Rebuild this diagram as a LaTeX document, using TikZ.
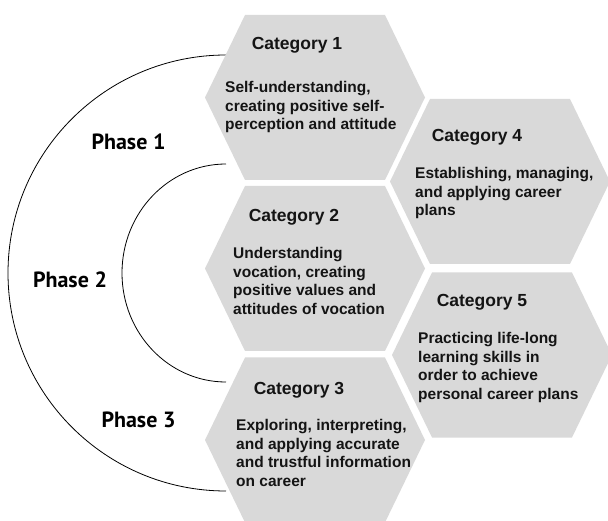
\documentclass[tikz,border=0pt]{standalone}
\usepackage{fontspec}
\setmainfont{Liberation Sans}
\newfontfamily\phasefamily{PT Sans}
\usepackage{xcolor}
\usepackage{tikz}
\usetikzlibrary{positioning}

\definecolor{cellgray}{RGB}{217,217,217}
\definecolor{inkgray}{RGB}{20,20,20}

\newcommand{\hexcell}[3]{%
  \coordinate (#1) at (#2,#3);
  \fill[cell, shift={(#2,#3)}] (-110,0) -- (-70,-82.5) -- (70,-82.5) -- (110,0)
    -- (70,82.5) -- (-70,82.5) -- cycle;
}

\begin{document}
\begin{tikzpicture}[
  x=1pt, y=-1pt,
  cell/.style={fill=cellgray},
  cattitle/.style={font=\fontsize{17.5}{20}\selectfont\bfseries, text=inkgray, anchor=base, inner sep=0pt},
  catbody/.style={font=\fontsize{15.5}{18.6}\selectfont\bfseries, text=inkgray, align=left, anchor=north west, inner sep=0pt},
  phaselabel/.style={font=\phasefamily\fontsize{22}{26}\selectfont\bfseries, anchor=base, inner sep=0pt},
  phasearc/.style={draw, line width=0.8pt}
]
  \clip (0,0) rectangle (608,521);

  \coordinate (outer top) at (226,55);
  \coordinate (inner top) at (226,164);
  \draw[phasearc] (outer top) arc[start angle=-90, end angle=-270, x radius=218, y radius=218] coordinate (outer bottom);
  \draw[phasearc] (inner top) arc[start angle=-90, end angle=-270, x radius=104, y radius=109] coordinate (inner bottom);

  \hexcell{hex1}{315}{97.5}
  \hexcell{hex2}{315}{268.5}
  \hexcell{hex3}{315}{440}
  \hexcell{hex4}{500}{181.5}
  \hexcell{hex5}{502}{355}

  \node[phaselabel] (phase1) at (128.5,150) {Phase 1};
  \node[phaselabel] (phase2) at (70,288) {Phase 2};
  \node[phaselabel] (phase3) at (138.5,427) {Phase 3};

  \node[cattitle] (cat1) at (297,49.5) {Category 1};
  \node[catbody] (text1) at (225,81.3) {Self-understanding,\\creating positive self-\\perception and attitude};

  \node[cattitle] (cat2) at (294,221.3) {Category 2};
  \node[catbody] (text2) at (233,247.3) {Understanding\\vocation, creating\\positive values and\\attitudes of vocation};

  \node[cattitle] (cat3) at (299,394.3) {Category 3};
  \node[catbody] (text3) at (236,419.3) {Exploring, interpreting,\\and applying accurate\\and trustful information\\on career};

  \node[cattitle] (cat4) at (477,141.3) {Category 4};
  \node[catbody] (text4) at (415,167.3) {Establishing, managing,\\and applying career\\plans};

  \node[cattitle] (cat5) at (482,306.3) {Category 5};
  \node[catbody] (text5) at (418,332.3) {Practicing life-long\\learning skills in\\order to achieve\\personal career plans};
\end{tikzpicture}
\end{document}
